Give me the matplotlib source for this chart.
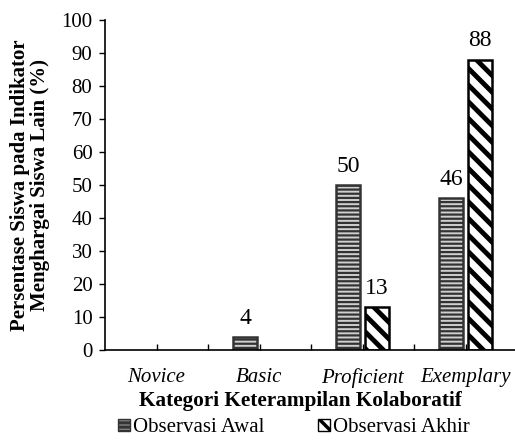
import numpy as np
import matplotlib.pyplot as plt
from matplotlib.patches import Patch

categories = ['Novice', 'Basic', 'Proficient', 'Exemplary']
awal = [0, 4, 50, 46]
akhir = [0, 0, 13, 88]

plt.rcParams['font.family'] = 'Liberation Serif'
fs = 15

fig = plt.figure(figsize=(5.15, 4.43), dpi=100)
ax = fig.add_axes([105/515, 1-350/443, 412/515, 330/443])

x = np.arange(len(categories))
w = 0.24
awal_h = [v if v > 0 else np.nan for v in awal]
akhir_h = [v if v > 0 else np.nan for v in akhir]

plt.rcParams['hatch.linewidth'] = 1.6
b1 = ax.bar(x - w/2 - 0.02, awal_h, w, color='#d0d0d0', edgecolor='#333333',
            hatch='----', linewidth=1.8)
plt.rcParams['hatch.linewidth'] = 3.5
b2 = ax.bar(x + w/2 + 0.02, akhir_h, w, color='white', edgecolor='black',
            hatch='\\\\', linewidth=1.8)

for rect, v in zip(b1, awal):
    if v > 0:
        ax.text(rect.get_x() + rect.get_width()/2, v + 2.5, str(v),
                ha='center', va='bottom', fontsize=17)
for rect, v in zip(b2, akhir):
    if v > 0:
        ax.text(rect.get_x() + rect.get_width()/2, v + 2.5, str(v),
                ha='center', va='bottom', fontsize=17)

ax.set_xlim(-0.5, 3.5)
ax.set_ylim(0, 100)
ax.set_yticks(range(0, 101, 10))
ax.set_xticks(np.arange(0, 4, 0.5))
ax.set_xticklabels([])
for xi, c in zip(x, categories):
    ax.text(xi, -5.5, c, ha='center', va='top', fontsize=fs, style='italic')
ax.tick_params(axis='y', labelsize=fs, direction='out', length=4, width=1, pad=5)
ax.tick_params(axis='x', direction='in', length=4, width=1)
ax.spines['top'].set_visible(False)
ax.spines['right'].set_visible(False)
ax.spines['left'].set_linewidth(1.2)
ax.spines['bottom'].set_linewidth(1.2)

fig.text(300/515, 1-401/443, 'Kategori Keterampilan Kolaboratif',
         ha='center', va='center', fontsize=15.3, fontweight='bold')
fig.text(30/515, 1-185/443, 'Persentase Siswa pada Indikator\nMenghargai Siswa Lain (%)',
         rotation=90, ha='center', va='center', fontsize=fs, fontweight='bold',
         linespacing=1.0)

plt.rcParams['hatch.linewidth'] = 1.2
h1 = Patch(facecolor='#d0d0d0', edgecolor='#333333', hatch='----')
plt.rcParams['hatch.linewidth'] = 2.5
h2 = Patch(facecolor='white', edgecolor='black', hatch='\\\\')
fig.legend([h1, h2], ['Observasi Awal', 'Observasi Akhir'], loc='center',
           bbox_to_anchor=(294/515, 1-428/443), ncol=2, frameon=False,
           fontsize=fs, handlelength=0.55, handleheight=0.55, handletextpad=0.15,
           columnspacing=2.6)

fig.savefig('out.png', dpi=100)
